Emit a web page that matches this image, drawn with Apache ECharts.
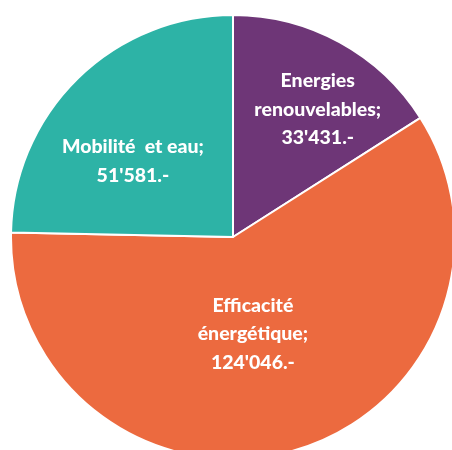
<!DOCTYPE html>
<html>
<head>
<meta charset="utf-8">
<script src="https://cdn.jsdelivr.net/npm/echarts@6/dist/echarts.min.js"></script>
<style>
  html, body { margin: 0; padding: 0; background: #fff; }
  #chart { width: 452px; height: 450px; }
</style>
</head>
<body>
<div id="chart"></div>
<script>
const categories = ['Energies\nrenouvelables;', 'Efficacité\nénergétique;', 'Mobilité  et eau;'];
const values = [33431, 124046, 51581];
const colors = ['#6E3677', '#EC6A3F', '#2DB3A6'];

// label placement: [fraction of radius, angle in degrees clockwise from top]
const labelSpots = [[0.69, 33.6], [0.446, 168.4], [0.566, 307.2]];

const cx = 233, cy = 237, radius = 222;

function formatValue(v) {
  return String(v).replace(/\B(?=(\d{3})+(?!\d))/g, "'") + '.-';
}

document.addEventListener('DOMContentLoaded', function () {
  let chart = echarts.init(document.querySelector('#chart'));

  let data = categories.map(function (name, i) {
    return { name: name, value: values[i], itemStyle: { color: colors[i] } };
  });

  chart.setOption({
    animation: false,
    series: [{
      type: 'pie',
      center: [cx, cy],
      radius: radius,
      startAngle: 90,
      clockwise: true,
      data: data,
      itemStyle: { borderColor: '#fff', borderWidth: 2 },
      label: {
        position: 'inside',
        formatter: function (p) { return p.name + '\n' + formatValue(p.value); },
        color: '#fff',
        fontFamily: 'Lato',
        fontWeight: 900,
        fontSize: 19.5,
        lineHeight: 28.5,
        align: 'center'
      },
      labelLine: { show: false },
      emphasis: { disabled: true },
      labelLayout: function (params) {
        let spot = labelSpots[params.dataIndex];
        let a = spot[1] * Math.PI / 180;
        return {
          x: cx + spot[0] * radius * Math.sin(a),
          y: cy - spot[0] * radius * Math.cos(a),
          align: 'center',
          verticalAlign: 'middle'
        };
      }
    }]
  });
});
</script>
</body>
</html>
